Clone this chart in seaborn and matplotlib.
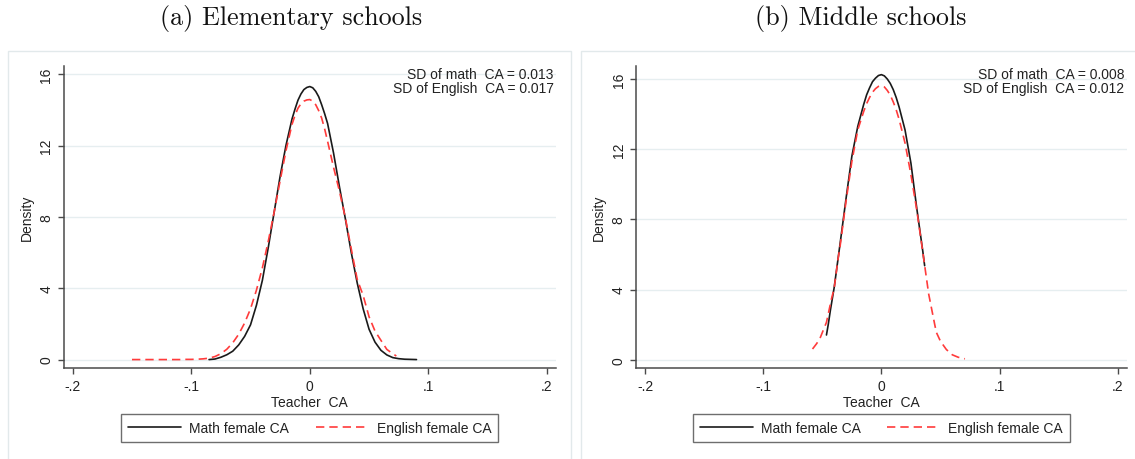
import matplotlib
matplotlib.use("Agg")
import matplotlib.pyplot as plt
from matplotlib.patches import Rectangle
import seaborn as sns

# ---------------- data ----------------
panel_titles = ["(a) Elementary schools", "(b) Middle schools"]
sd_math = ["0.013", "0.008"]
sd_english = ["0.017", "0.012"]
series_labels = ["Math female CA", "English female CA"]
x_ticks = [-0.2, -0.1, 0.0, 0.1, 0.2]
x_tick_labels = ["-.2", "-.1", "0", ".1", ".2"]
y_ticks = [0, 4, 8, 12, 16]
y_tick_labels = ["0", "4", "8", "12", "16"]

# Elementary: math
elem_math_x = [-0.085, -0.080, -0.075, -0.070, -0.065, -0.060, -0.055, -0.050, -0.045,
               -0.040, -0.035, -0.030, -0.025, -0.020, -0.015, -0.0125, -0.010, -0.0075,
               -0.005, -0.0025, 0.000, 0.0025, 0.005, 0.0075, 0.010, 0.0125, 0.015, 0.020,
               0.025, 0.030, 0.035, 0.040, 0.045, 0.050, 0.055, 0.060, 0.065, 0.070,
               0.075, 0.080, 0.085, 0.090]
elem_math_y = [0.00, 0.03, 0.13, 0.27, 0.47, 0.82, 1.30, 1.95, 3.05,
               4.45, 6.30, 8.30, 10.30, 12.05, 13.50, 14.05, 14.55, 14.90,
               15.15, 15.27, 15.32, 15.25, 15.05, 14.75, 14.30, 13.80, 13.25, 11.60,
               9.70, 7.90, 6.00, 4.30, 2.85, 1.70, 0.98, 0.52, 0.26, 0.11,
               0.05, 0.02, 0.01, 0.00]

# Elementary: English
elem_eng_x = [-0.150, -0.140, -0.130, -0.120, -0.110, -0.105, -0.100, -0.095, -0.090,
              -0.085, -0.080, -0.075, -0.070, -0.065, -0.060, -0.055, -0.050, -0.045,
              -0.040, -0.035, -0.030, -0.025, -0.020, -0.015, -0.0125, -0.010, -0.0075,
              -0.005, -0.0025, 0.000, 0.0025, 0.005, 0.0075, 0.010, 0.0125, 0.015, 0.020,
              0.025, 0.030, 0.035, 0.040, 0.045, 0.050, 0.055, 0.060, 0.065, 0.070, 0.073]
elem_eng_y = [0.00, 0.00, 0.00, 0.00, 0.00, 0.01, 0.01, 0.02, 0.04,
              0.08, 0.17, 0.33, 0.58, 0.94, 1.42, 2.05, 2.85, 3.90,
              5.15, 6.65, 8.30, 10.05, 11.75, 13.20, 13.70, 14.10, 14.35,
              14.50, 14.57, 14.59, 14.50, 14.30, 13.97, 13.55, 12.95, 12.25, 10.80,
              9.45, 7.95, 6.20, 4.50, 3.60, 2.40, 1.60, 1.08, 0.57, 0.33, 0.20]

# Middle: math
mid_math_x = [-0.0465, -0.045, -0.0431, -0.040, -0.035, -0.030, -0.025, -0.020, -0.015,
              -0.0125, -0.010, -0.0075, -0.005, -0.0025, 0.000, 0.0025, 0.005, 0.0075,
              0.010, 0.0125, 0.015, 0.020, 0.025, 0.030, 0.035, 0.0366]
mid_math_y = [1.41, 2.00, 2.85, 4.10, 6.60, 9.15, 11.60, 13.30, 14.55,
              15.10, 15.50, 15.85, 16.05, 16.20, 16.25, 16.18, 16.00, 15.75,
              15.40, 14.95, 14.40, 13.10, 11.20, 8.60, 6.20, 5.36]

# Middle: English
mid_eng_x = [-0.0583, -0.055, -0.0522, -0.050, -0.0465, -0.045, -0.0423, -0.040, -0.0367,
             -0.035, -0.030, -0.025, -0.020, -0.015, -0.0125, -0.010, -0.0075, -0.005,
             -0.0025, 0.000, 0.0025, 0.005, 0.0075, 0.010, 0.0125, 0.015, 0.020, 0.025,
             0.030, 0.035, 0.040, 0.045, 0.0465, 0.050, 0.055, 0.060, 0.065, 0.0707]
mid_eng_y = [0.61, 0.90, 1.18, 1.55, 2.13, 2.60, 3.46, 4.05, 5.74,
             6.45, 9.00, 11.30, 13.10, 14.15, 14.60, 14.95, 15.25, 15.45,
             15.58, 15.62, 15.55, 15.35, 15.08, 14.70, 14.25, 13.70, 12.35, 10.55,
             8.50, 6.15, 3.75, 2.05, 1.56, 1.05, 0.58, 0.28, 0.14, 0.05]

panels = [
    (elem_math_x, elem_math_y, elem_eng_x, elem_eng_y, (-0.49, 16.49)),
    (mid_math_x, mid_math_y, mid_eng_x, mid_eng_y, (-0.49, 16.76)),
]

# ---------------- styling ----------------
sns.set_theme(style="white")
plt.rcParams["font.family"] = ["Liberation Sans", "DejaVu Sans"]

W, H = 1135, 460
fig = plt.figure(figsize=(W / 100, H / 100), dpi=100)
fig.patch.set_facecolor("white")

axes_px = [(63.6, 556.0), (636.0, 1126.8)]
ax_top, ax_bot = 66.7, 369.3
title_x = [291, 861]
panel_rects = [(8, 571), (581, 1145)]

spine_col = "#4a4a4a"
grid_col = "#e6eef0"
black = "#1a1a1a"
red = "#ff3b3b"

for i, (mx, my, ex, ey, ylim) in enumerate(panels):
    # panel border
    x0, x1 = panel_rects[i]
    fig.add_artist(Rectangle((x0 / W, -0.05), (x1 - x0) / W, 0.05 + (H - 52) / H,
                             transform=fig.transFigure, fill=False,
                             ec="#e2e9eb", lw=1.0))
    fig.text(title_x[i] / W, 1 - 19 / H, panel_titles[i], ha="center", va="center",
             family="cmr10", fontsize=18.8, color="#111111")

    l, r = axes_px[i]
    ax = fig.add_axes([l / W, (H - ax_bot) / H, (r - l) / W, (ax_bot - ax_top) / H])
    ax.set_facecolor("white")

    for yv in y_ticks:
        ax.axhline(yv, color=grid_col, lw=1.0, zorder=0)

    sns.lineplot(x=mx, y=my, ax=ax, color=black, lw=1.2, label=series_labels[0],
                 estimator=None, zorder=3)
    sns.lineplot(x=ex, y=ey, ax=ax, color=red, lw=1.2, label=series_labels[1],
                 estimator=None, zorder=4)
    ax.lines[-1].set_dashes((5, 3))

    ax.set_xlim(-0.2077, 0.2077)
    ax.set_ylim(*ylim)
    ax.set_xticks(x_ticks)
    ax.set_xticklabels(x_tick_labels, fontsize=10, color="#222222")
    ax.set_yticks(y_ticks)
    ax.set_yticklabels(y_tick_labels, fontsize=10, color="#222222")
    for t in ax.get_yticklabels():
        t.set_rotation(90)
        t.set_va("center")
    ax.tick_params(axis="both", direction="out", length=4.5, width=1.0,
                   color=spine_col, bottom=True, left=True, pad=3)

    for side in ["top", "right"]:
        ax.spines[side].set_visible(False)
    for side in ["left", "bottom"]:
        ax.spines[side].set_color(spine_col)
        ax.spines[side].set_linewidth(1.1)

    ax.set_xlabel("Teacher  CA", fontsize=10, color="#222222", labelpad=2)
    ax.set_ylabel("Density", fontsize=10, color="#222222", labelpad=4)

    ax.text(0.995, 0.973, f"SD of math  CA = {sd_math[i]}", transform=ax.transAxes,
            ha="right", va="center", fontsize=10, color="#222222")
    ax.text(0.995, 0.926, f"SD of English  CA = {sd_english[i]}", transform=ax.transAxes,
            ha="right", va="center", fontsize=10, color="#222222")

    handles = ax.lines[len(y_ticks):len(y_ticks) + 2]
    leg = ax.legend(handles, series_labels, loc="center", bbox_to_anchor=(0.5, -0.197),
                    ncol=2, frameon=True, fancybox=False, fontsize=10,
                    handlelength=3.8, columnspacing=1.9, handletextpad=0.6,
                    borderpad=0.5, borderaxespad=0)
    leg.get_frame().set_edgecolor(spine_col)
    leg.get_frame().set_linewidth(1.0)
    for t in leg.get_texts():
        t.set_color("#222222")

fig.savefig("out.png", dpi=100, facecolor="white")
